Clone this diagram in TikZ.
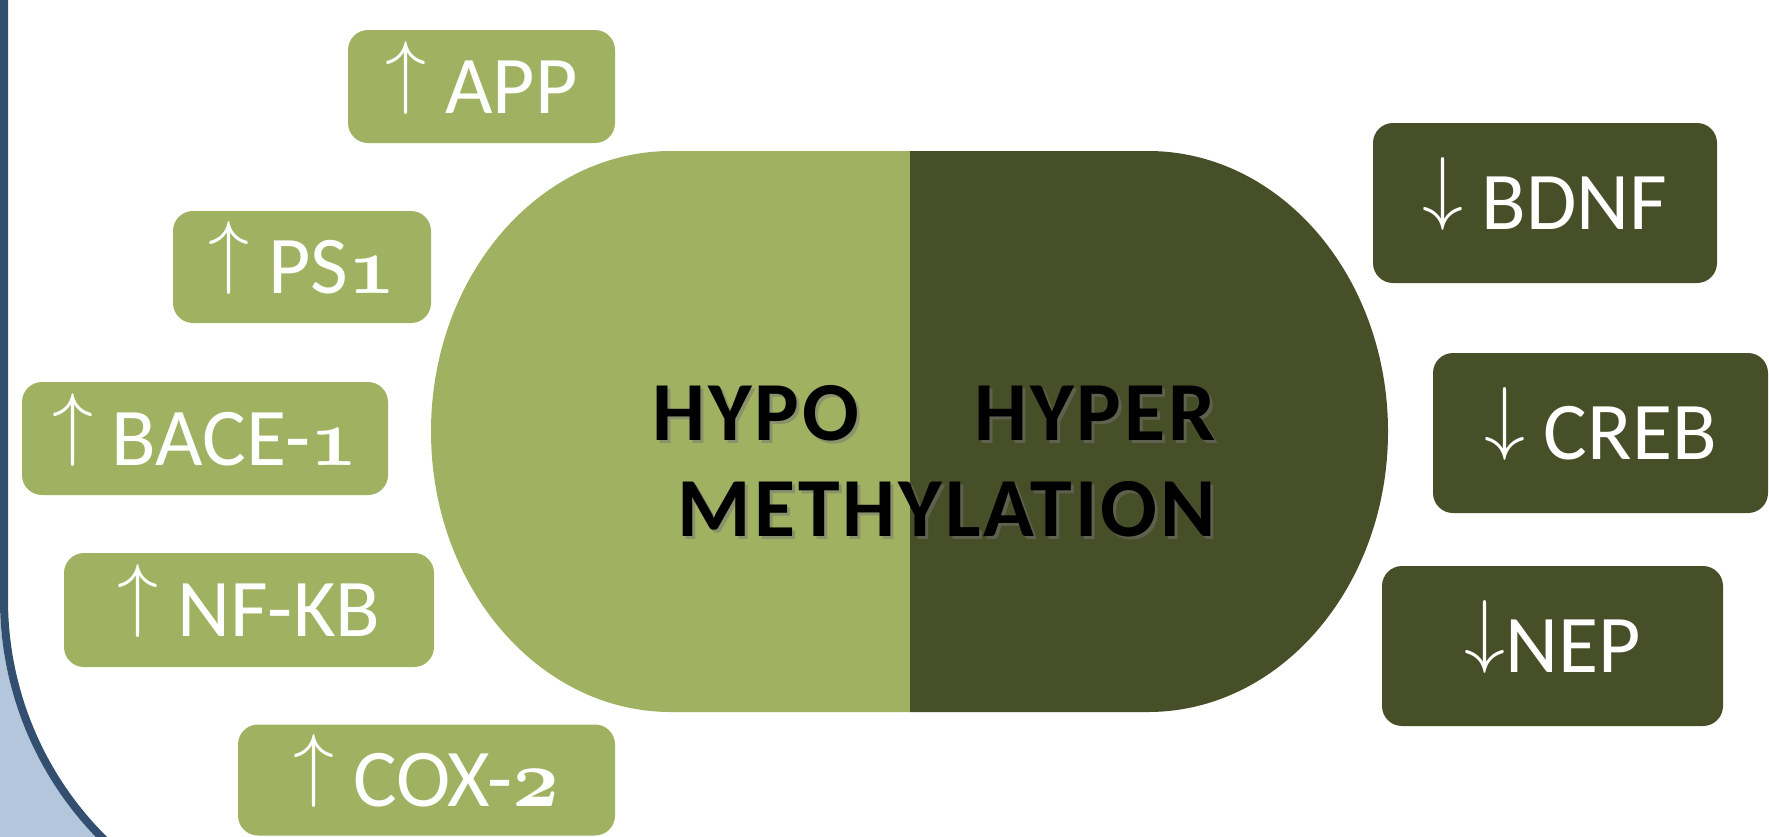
\RequirePackage{fix-cm}
\documentclass[tikz,border=0pt]{standalone}
\usepackage{fontspec}
\setmainfont{Carlito}

\definecolor{hypogreen}{RGB}{160,178,98}
\definecolor{hyperolive}{RGB}{71,79,40}
\definecolor{framefill}{RGB}{180,198,220}
\definecolor{frameline}{RGB}{50,79,111}

\newcommand{\upmark}{\raisebox{15pt}{$\uparrow$}}
\newcommand{\downmark}{\raisebox{15pt}{$\downarrow$}}
\newcommand{\lownum}[1]{{\boldmath$\mathnormal{#1}$}}

\tikzset{
    genebox/.style={rounded corners=20pt, text=white, inner sep=0pt,
        text height=53pt, text depth=0pt, font=\fontsize{82}{96}\selectfont},
    upbox/.style={genebox, fill=hypogreen},
    downbox/.style={genebox, fill=hyperolive},
    methtext/.style={inner sep=0pt, font=\bfseries\fontsize{84}{100}\selectfont\addfontfeatures{LetterSpace=3.5}}
}

\begin{document}
\begin{tikzpicture}[x=1pt, y=-1pt]
        \useasboundingbox (0,0) rectangle (1769,836);
        % slide frame in the corner
        \fill[framefill] (0,600) arc (180:128:341) -- (0,860) -- cycle;
        \draw[frameline, line width=8pt] (4,-5) -- (4,600) arc (180:128:337);
        % methylation pill
        \fill[hypogreen] (910,151) -- (671,151) arc (270:90:240 and 280.5) -- (910,712) -- cycle;
        \fill[hyperolive] (910,151) -- (1148,151) arc (-90:90:240 and 280.5) -- (910,712) -- cycle;
        \foreach \n/\a/\x/\y/\t in {hypo/west/652/440/HYPO,hyper/east/1216/440/HYPER,meth/east/1216/536/METHYLATION} {
            \node[methtext, text=black!55, opacity=.5, anchor=base \a] at (\x+3,\y+3) {\t};
            \node[methtext, anchor=base \a] (\n) at (\x,\y) {\t};
        }
        % up-regulated genes
        \foreach \n/\x/\y/\w/\h/\t in {app/481.5/86.5/267/113/\upmark\ APP,ps1/302/267/258/112/\upmark\ PS\lownum{1},bace/205/438.5/366/113/\upmark\ BACE-\lownum{1},nfkb/249/610/370/114/\upmark\ NF-KB,cox/426.5/780/377/111/\upmark\ COX-\lownum{2}} {
            \node[upbox, minimum width=\w pt, minimum height=\h pt] (\n) at (\x,\y) {\t};
        }
        % down-regulated genes
        \foreach \n/\x/\y/\w/\h/\t in {bdnf/1545/203/344/160/\downmark\ BDNF,creb/1600.5/433/335/160/\downmark\ CREB,nep/1552.5/646/341/160/\downmark NEP} {
            \node[downbox, minimum width=\w pt, minimum height=\h pt] (\n) at (\x,\y) {\t};
        }
\end{tikzpicture}
\end{document}
